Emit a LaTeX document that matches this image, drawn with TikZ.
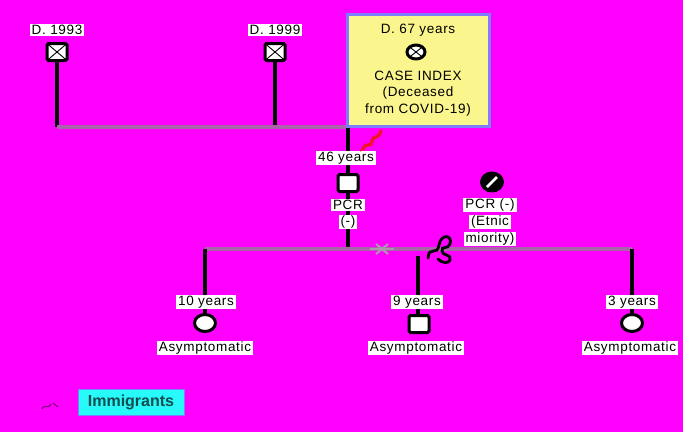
\documentclass[tikz,border=0pt]{standalone}
\usepackage{fontspec}
\setmainfont{Liberation Sans}
\newfontfamily\lblfont[LetterSpace=5]{Liberation Sans}
\usetikzlibrary{backgrounds,shapes.geometric}
\definecolor{bg}{RGB}{255,0,255}
\definecolor{linegray}{RGB}{170,100,170}
\definecolor{xgray}{RGB}{175,150,175}
\definecolor{boxyellow}{RGB}{250,245,140}
\definecolor{boxblue}{RGB}{125,125,255}
\definecolor{legcyan}{RGB}{40,250,250}
\definecolor{legtext}{RGB}{20,75,80}
\definecolor{sqred}{RGB}{240,20,40}
\begin{document}
\begin{tikzpicture}[x=1pt,y=-1pt,
 lbl/.style={fill=white, inner xsep=2pt, inner ysep=1pt, font=\lblfont\fontsize{13.5}{14}\selectfont},
 txt/.style={inner sep=0.5pt, font=\lblfont\fontsize{13.5}{14}\selectfont},
 male/.style={draw=black, fill=white, line width=3pt, rounded corners=1.5pt, minimum width=20pt, minimum height=17pt, inner sep=0},
 female/.style={draw=black, fill=white, line width=3pt, ellipse, minimum width=21pt, minimum height=17pt, inner sep=0},
 crossed/.style={path picture={\draw[black, line width=0.9pt] (path picture bounding box.south west) -- (path picture bounding box.north east) (path picture bounding box.north west) -- (path picture bounding box.south east);}},
 lifeline/.style={line width=4.4pt, black},
 sibline/.style={line width=4.4pt, linegray},
]
\useasboundingbox (0,0) rectangle (683,432);
\begin{pgfonlayer}{background}
\fill[bg] (0,0) rectangle (683,432);
\end{pgfonlayer}

% coordinates of line junctions
\coordinate (topL) at (56,127);
\coordinate (topR) at (350,127);
\coordinate (midJ) at (348,249);
\coordinate (sibL) at (205,249);
\coordinate (sibR) at (632,249);
\coordinate (sibM) at (418,256);

% grandparents
\node[lbl] (l93) at (57,30) {D. 1993};
\node[male, crossed] (d93) at (57,52) {};
\node[lbl] (l99) at (275,30) {D. 1999};
\node[male, crossed] (d99) at (275,52) {};

% case index box
\node[draw=boxblue, fill=boxyellow, line width=3pt, minimum width=142pt, minimum height=112pt, inner sep=0] (casebox) at (418.5,70) {};
\node[txt] (t67) at (418,30) {D. 67 years};
\node[female, crossed, minimum width=18pt, minimum height=14pt] (idx) at (416,52) {};
\node[txt] (tci) at (418,76) {CASE INDEX};
\node[txt] (tdec) at (418,93) {(Deceased};
\node[txt] (tcov) at (418,110) {from COVID-19)};

% father
\node[lbl] (l46) at (346,158) {46 years};
\node[male] (f46) at (348,183) {};
\node[lbl] (pcr1) at (348,205) {PCR};
\node[lbl] (pcr1b) at (348,222) {(-)};

% mother
\node[ellipse, fill=black, minimum width=24pt, minimum height=21pt, inner sep=0,
  path picture={\draw[white, line width=2.6pt] ([xshift=-5pt,yshift=-5pt]path picture bounding box.center) -- ([xshift=5pt,yshift=5pt]path picture bounding box.center);}] (mom) at (492,182) {};
\node[lbl] (pcr2) at (490,205) {PCR (-)};
\node[lbl] (pcr2b) at (490,222) {(Etnic};
\node[lbl] (pcr2c) at (490,239) {miority)};

% children
\node[lbl] (l10) at (206,302) {10 years};
\node[female] (c10) at (205,323) {};
\node[lbl] (a10) at (205,348) {Asymptomatic};
\node[lbl] (l9) at (417,302) {9 years};
\node[male] (c9) at (419,324) {};
\node[lbl] (a9) at (416,348) {Asymptomatic};
\node[lbl] (l3) at (632,302) {3 years};
\node[female] (c3) at (632,323) {};
\node[lbl] (a3) at (630,348) {Asymptomatic};

% legend
\node[draw=boxblue, fill=legcyan, line width=1pt, minimum width=106pt, minimum height=26pt, inner sep=0, font=\fontsize{16}{16}\selectfont\bfseries, text=legtext] (leg) at (131,402) {Immigrants};

\begin{pgfonlayer}{background}
\draw[lifeline] (d93) -- (d93 |- topL);
\draw[lifeline] (d99) -- (d99 |- topL);
\draw[sibline] (d93 |- topL) -- (topR);
\draw[lifeline] (casebox.south -| midJ) -- (midJ);
\draw[sibline] (sibL) -- (sibR);
\draw[lifeline] (sibL) -- (c10);
\draw[lifeline] (sibM) -- (sibM |- c9);
\draw[lifeline] (sibR) -- (c3);
\end{pgfonlayer}

% divorce-like gray x marker
\draw[xgray, line width=2pt] (376,244) -- (388,254) (376,254) -- (388,244);
\draw[xgray, line width=1.2pt] (370,249) -- (394,249);

% immigrant squiggles
\draw[black, line width=2.8pt, line cap=round] (428,258) .. controls (429,245) and (437,257) .. (439,245) .. controls (441,233) and (453,235) .. (450,244) .. controls (448,250) and (441,245) .. (442,251) .. controls (443,257) and (451,253) .. (450,260) .. controls (449,264) and (441,263) .. (438,259);
\draw[sqred, line width=3.4pt, line cap=round] (363,149) .. controls (366,141) and (371,149) .. (372,141) .. controls (373,135) and (378,140) .. (381,131);
\draw[sqred, line width=1.5pt] (360,151) -- (363,149);
\draw[black!60!bg, line width=1pt] (42,409) .. controls (45,403) and (48,410) .. (51,404) (53,403) -- (58,407);
\end{tikzpicture}
\end{document}
